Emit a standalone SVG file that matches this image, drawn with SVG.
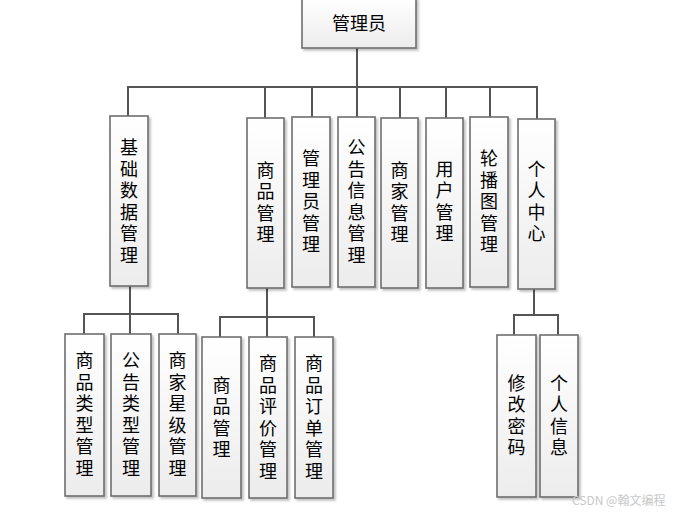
<svg xmlns="http://www.w3.org/2000/svg" width="675" height="515" viewBox="0 0 675 515">
<defs>
<linearGradient id="g" x1="0" y1="0" x2="0" y2="1">
<stop offset="0" stop-color="#ffffff"/>
<stop offset="1" stop-color="#ececec"/>
</linearGradient>
<filter id="sh" x="-20%" y="-5%" width="140%" height="115%">
<feDropShadow dx="2" dy="2" stdDeviation="1.2" flood-color="#000" flood-opacity="0.25"/>
</filter>
</defs>
<style>
.b{fill:url(#g);stroke:#6e6e6e;stroke-width:1.6;filter:url(#sh)}
.t{font-family:"Noto Sans CJK SC","Microsoft YaHei",sans-serif;font-size:18px;fill:#000;text-anchor:middle;dominant-baseline:central}
.v{font-family:"Noto Sans CJK SC","Microsoft YaHei",sans-serif;font-size:18px;fill:#000;text-anchor:middle;writing-mode:vertical-rl;letter-spacing:3.5px;dominant-baseline:central}
.c{fill:none;stroke:#555;stroke-width:2}
.w{font-family:"Noto Sans CJK SC",sans-serif;font-size:12px;fill:#c8c8c8;text-anchor:start}
</style>
<rect width="675" height="515" fill="#fff"/>
<g id="connectors" class="c">
<path d="M357 48V87M128 116V87H537V119M265 87V118M312 87V117M357 87V117M400 87V118M446 87V118M490 87V117"/>
<path d="M130 286V314M84 334V314H178V334M130 314V334"/>
<path d="M267 288V317M220 337V317H314V337M267 317V337"/>
<path d="M534 289V315M514 335V315H558V335"/>
</g>
<g id="root"><rect class="b" x="302" y="-2" width="114" height="50"/><text class="t" x="359" y="22">管理员</text></g>
<g id="n1"><rect class="b" x="110" y="116" width="38" height="170"/><text class="v" x="129" y="203">基础数据管理</text></g>
<g id="n2"><rect class="b" x="247" y="118" width="37" height="170"/><text class="v" x="265.5" y="204">商品管理</text></g>
<g id="n3"><rect class="b" x="292" y="117" width="38" height="170"/><text class="v" x="311" y="203">管理员管理</text></g>
<g id="n4"><rect class="b" x="338" y="117" width="37" height="170"/><text class="v" x="356.5" y="203">公告信息管理</text></g>
<g id="n5"><rect class="b" x="381" y="118" width="37" height="170"/><text class="v" x="399.5" y="204">商家管理</text></g>
<g id="n6"><rect class="b" x="426" y="118" width="37" height="170"/><text class="v" x="444.5" y="203">用户管理</text></g>
<g id="n7"><rect class="b" x="470" y="117" width="38" height="170"/><text class="v" x="489" y="203">轮播图管理</text></g>
<g id="n8"><rect class="b" x="518" y="119" width="37" height="170"/><text class="v" x="536.5" y="203">个人中心</text></g>
<g id="s1"><rect class="b" x="65" y="334" width="39" height="162"/><text class="v" x="84.5" y="416">商品类型管理</text></g>
<g id="s2"><rect class="b" x="111" y="334" width="40" height="162"/><text class="v" x="131" y="416">公告类型管理</text></g>
<g id="s3"><rect class="b" x="159" y="334" width="37" height="162"/><text class="v" x="177.5" y="416">商家星级管理</text></g>
<g id="s4"><rect class="b" x="202" y="337" width="39" height="161"/><text class="v" x="221.5" y="419">商品管理</text></g>
<g id="s5"><rect class="b" x="249" y="337" width="38" height="161"/><text class="v" x="268" y="419">商品评价管理</text></g>
<g id="s6"><rect class="b" x="295" y="337" width="38" height="161"/><text class="v" x="314" y="419">商品订单管理</text></g>
<g id="s7"><rect class="b" x="497" y="335" width="39" height="162"/><text class="v" x="516.5" y="417">修改密码</text></g>
<g id="s8"><rect class="b" x="540" y="335" width="38" height="162"/><text class="v" x="559" y="417">个人信息</text></g>
<text class="w" x="572" y="505">CSDN @翰文编程</text>
</svg>
